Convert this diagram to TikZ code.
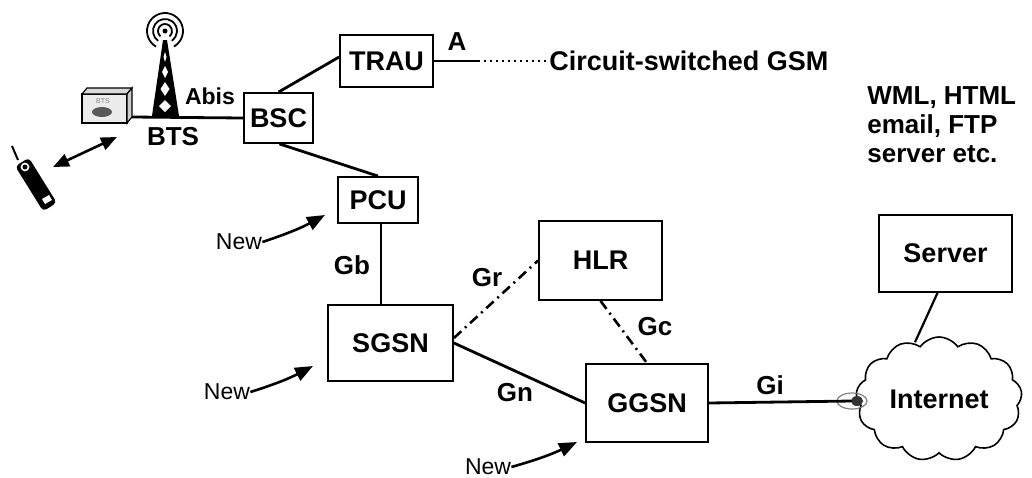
\documentclass[tikz,border=0pt]{standalone}
\usepackage{fontspec}
\setmainfont{Liberation Sans}
\usetikzlibrary{arrows.meta,shapes.symbols,shapes.geometric}
\begin{document}
\begin{tikzpicture}[x=0.5pt,y=-0.5pt,
  box/.style={draw,line width=0.9pt,inner sep=0pt,font=\fontsize{13.5}{16}\selectfont\bfseries},
  lbl/.style={inner sep=0pt,font=\fontsize{13}{15}\selectfont\bfseries},
  smalllbl/.style={inner sep=0pt,font=\fontsize{11.5}{14}\selectfont\bfseries},
  newlbl/.style={inner sep=0pt,font=\fontsize{11.5}{14}\selectfont},
  conn/.style={line width=1.4pt},
  dashdot/.style={line width=1.3pt,dash pattern=on 5pt off 2.5pt on 1pt off 2.5pt},
  newarrow/.style={line width=1.3pt,-{Triangle[length=9pt,width=7pt]}},
]
\useasboundingbox (0,0) rectangle (1032,477);

% boxes
\node[box,minimum width=46.5pt,minimum height=26pt] (trau) at (386.5,61) {TRAU};
\node[box,minimum width=34.5pt,minimum height=25pt] (bsc) at (278.5,118) {BSC};
\node[box,minimum width=40pt,minimum height=23pt] (pcu) at (378,200) {PCU};
\node[box,minimum width=62.5pt,minimum height=38pt] (sgsn) at (390.5,343) {SGSN};
\node[box,minimum width=61.5pt,minimum height=39.5pt] (hlr) at (600.5,260.5) {HLR};
\node[box,minimum width=61pt,minimum height=39pt] (ggsn) at (647,403) {GGSN};
\node[box,minimum width=66.5pt,minimum height=38.5pt] (srv) at (945.5,253.5) {Server};
\node[cloud,draw,line width=0.8pt,cloud puffs=13,cloud puff arc=110,aspect=1.3,
      minimum width=83pt,minimum height=62pt,inner sep=0pt,
      font=\fontsize{13.5}{16}\selectfont\bfseries] (cloud) at (939,399) {Internet};

% BTS equipment box
\filldraw[fill=gray!15,line width=0.6pt] (82,94) rectangle (127,123);
\filldraw[fill=gray!30,line width=0.6pt] (82,94) -- (87,88) -- (132,88) -- (127,94) -- cycle;
\filldraw[fill=gray!40,line width=0.6pt] (127,94) -- (132,88) -- (132,117) -- (127,123) -- cycle;
\node[inner sep=0pt,font=\fontsize{3.5}{4}\selectfont,text=gray] (btsmini) at (103,101) {BTS};
\fill[gray!70!black] (102,112) ellipse (10 and 5);
\coordinate (btsr) at (132,117);

% tower
\fill (163,40) -- (167,40) -- (179,116) -- (152,116) -- cycle;
\fill[white] (165,52) -- (166.5,57) -- (165,62) -- (163.5,57) -- cycle;
\fill[white] (165,66) -- (168,72) -- (165,78) -- (162,72) -- cycle;
\fill[white] (165,82) -- (169.5,89) -- (165,96) -- (160.5,89) -- cycle;
\fill[white] (165,100) -- (171,106) -- (165,112) -- (159,106) -- cycle;
\fill (165,31) circle (2.5);
\draw[line width=0.9pt] ([shift={(130:7)}]165,31) arc (130:410:7);
\draw[line width=0.9pt] ([shift={(125:12)}]165,31) arc (125:415:12);
\draw[line width=0.9pt] ([shift={(120:18)}]165,31) arc (120:420:18);

% phone
\draw[line width=1pt] (12,146) -- (18,160);
\fill[rounded corners=2pt] (28.8,157.7) -- (15.2,166.3) -- (43.2,211.3) -- (56.8,202.7) -- cycle;
\draw[white,line width=0.8pt] (25,167) circle (3.5);
\fill[white] (42,199) -- (49,195) -- (52,200) -- (45,204) -- cycle;

% labels near BTS
\node[lbl] (btslbl) at (173,137) {BTS};
\node[smalllbl] (abislbl) at (210,96) {Abis};
\coordinate (arA) at (117,137);
\coordinate (arB) at (53,167);
\draw[line width=1.3pt,{Triangle[length=8pt,width=6.5pt]}-{Triangle[length=8pt,width=6.5pt]}] (arB) -- (arA);

% connectors
\draw[conn] (btsr) -- (bsc.west);
\draw[conn] (bsc.north) -- ([yshift=2pt]trau.west);
\coordinate (dotstart) at (478,61);
\coordinate (dotend) at (549,61);
\draw[conn] (trau.east) -- (dotstart);
\draw[line width=1pt,dash pattern=on 1pt off 2pt] (dotstart) -- (dotend);
\node[lbl,anchor=west,font=\fontsize{13.5}{16}\selectfont\bfseries] (csgsm) at (dotend) {Circuit-switched GSM};
\node[lbl] (alab) at (457,42) {A};

\draw[conn] ([xshift=0.5pt]bsc.south) -- (pcu.north);
\draw[conn] ([xshift=1.5pt]pcu.south) -- ([xshift=1.5pt]pcu.south |- sgsn.north);
\node[lbl] (gblab) at (352,265) {Gb};

\draw[dashdot] ([yshift=2.5pt]sgsn.east) -- (hlr.west);
\node[lbl] (grlab) at (487,278) {Gr};
\draw[conn] (sgsn.east) -- (ggsn.west);
\node[lbl] (gnlab) at (515,393) {Gn};
\draw[dashdot] (hlr.south) -- (ggsn.north);
\node[lbl] (gclab) at (655,327) {Gc};

\node[draw=gray,line width=0.6pt,ellipse,minimum width=15pt,minimum height=8pt,inner sep=0pt] (plug) at (852,401) {};
\fill[black!80] (857,401) ellipse (6 and 5);
\draw[conn] (ggsn.east) -- (plug.center);
\node[lbl] (gilab) at (770,385) {Gi};

\draw[line width=1.1pt] ([xshift=-4pt]srv.south) -- ([xshift=-12pt,yshift=-3pt]cloud.north);

\node[lbl,anchor=north west,align=left,font=\fontsize{13}{14.5}\selectfont\bfseries] (webtext) at (867,86) {WML, HTML\\email, FTP\\server etc.};

% New arrows
\node[newlbl] (new1) at (239,242) {New};
\node[newlbl] (new2) at (227,392) {New};
\node[newlbl] (new3) at (488,467) {New};
\coordinate (t1) at (325,215);
\coordinate (t2) at (313,366);
\coordinate (t3) at (577,442);
\draw[newarrow] (new1.east) to[bend right=5] (t1);
\draw[newarrow] (new2.east) to[bend right=5] (t2);
\draw[newarrow] (new3.east) to[bend right=5] (t3);
\end{tikzpicture}
\end{document}
